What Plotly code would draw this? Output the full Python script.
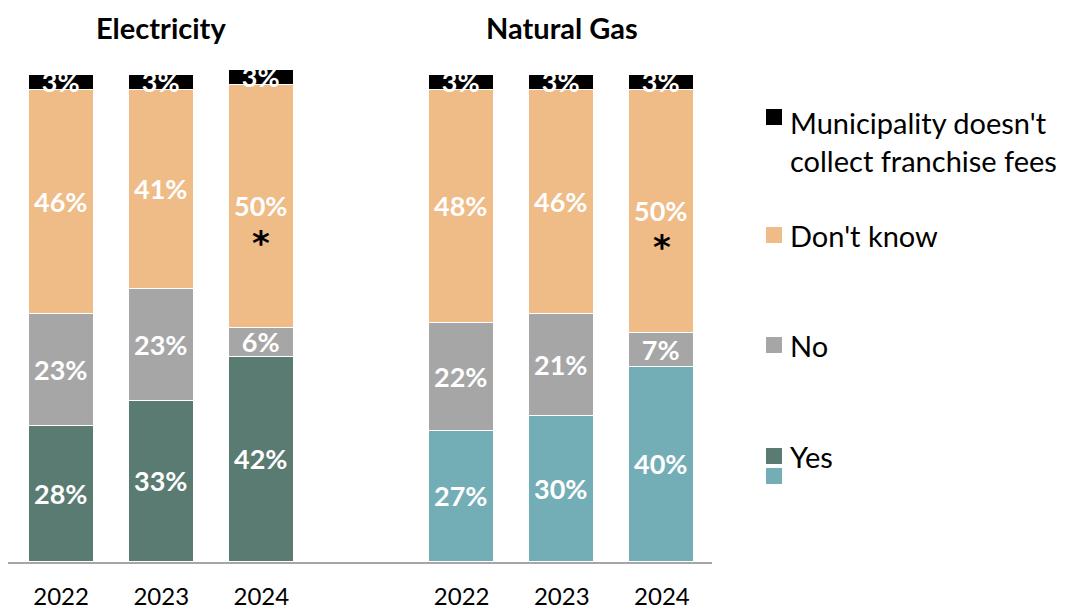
import plotly.graph_objects as go

# ---- data ----
years = ["2022", "2023", "2024"]
groups = ["Electricity", "Natural Gas"]
elec_yes = [28, 33, 42]
elec_no = [23, 23, 6]
elec_dk = [46, 41, 50]
elec_muni = [3, 3, 3]
gas_yes = [27, 30, 40]
gas_no = [22, 21, 7]
gas_dk = [48, 46, 50]
gas_muni = [3, 3, 3]
legend_labels = ["Municipality doesn't<br>collect franchise fees", "Don't know", "No", "Yes"]
significant = [False, False, True]  # asterisk on 2024

# ---- style ----
C_YES_E = "#5A7B71"
C_YES_G = "#73AEB7"
C_NO = "#A6A6A6"
C_DK = "#EFBB87"
C_MUNI = "#000000"
FONT = "Lato"

elec_x = [0, 1, 2]
gas_x = [4, 5, 6]

OFF = 8  # page body margin
W, H = 1069 - OFF, 612 - OFF
ML, MR, MT, MB = 0, 357, 32, 50
PW, PH = W - ML - MR, H - MT - MB

fig = go.Figure()


def add(x, vals, color, name):
    fig.add_trace(go.Bar(
        x=x, y=vals, name=name, marker=dict(color=color, line=dict(color="white", width=1.5)),
        width=0.65, text=[f"{v}%" for v in vals], textposition="inside",
        insidetextanchor="middle", textangle=0,
        insidetextfont=dict(family=FONT, size=27, color="white", weight="bold"),
        showlegend=False, hoverinfo="skip", cliponaxis=False,
    ))


for x, yes, no, dk, muni, cyes in [
    (elec_x, elec_yes, elec_no, elec_dk, elec_muni, C_YES_E),
    (gas_x, gas_yes, gas_no, gas_dk, gas_muni, C_YES_G),
]:
    add(x, yes, cyes, "Yes")
    add(x, no, C_NO, "No")
    add(x, dk, C_DK, "Don't know")
    add(x, muni, C_MUNI, "Municipality doesn't collect franchise fees")


def px(x):
    return (x - OFF - ML) / PW


def py(y):
    return (H - MB - (y - OFF)) / PH


# asterisks
for x, yes, no, dk in [(elec_x, elec_yes, elec_no, elec_dk), (gas_x, gas_yes, gas_no, gas_dk)]:
    for i, s in enumerate(significant):
        if s:
            fig.add_annotation(x=x[i], y=yes[i] + no[i] + dk[i] / 2, text="<b>*</b>", showarrow=False,
                               yshift=-36, font=dict(family="DejaVu Sans", size=34, color="black"))

# group titles
for gx, g in zip([1, 5], groups):
    fig.add_annotation(x=gx, xref="x", y=py(27), yref="paper", text=f"<b>{g}</b>",
                       yanchor="middle", showarrow=False,
                       font=dict(family=FONT, size=29, color="black"))

# custom legend
leg = [
    (legend_labels[0], [C_MUNI], 117, 141),
    (legend_labels[1], [C_DK], 235, 235),
    (legend_labels[2], [C_NO], 345, 345),
    (legend_labels[3], [C_YES_E, C_YES_G], 456, 456),
]
for text, colors, my, ty in leg:
    for k, c in enumerate(colors):
        top = my - 8 + k * 20
        fig.add_shape(type="rect", xref="paper", yref="paper",
                      x0=px(766), x1=px(782), y0=py(top + 16), y1=py(top),
                      fillcolor=c, line=dict(width=0))
    fig.add_annotation(x=px(788), y=py(ty), xref="paper", yref="paper", text=text,
                       xanchor="left", yanchor="middle", align="left", showarrow=False,
                       font=dict(family=FONT, size=29, color="black"))

fig.update_layout(
    width=W, height=H, barmode="stack", bargap=0,
    margin=dict(l=ML, r=MR, t=MT, b=MB, autoexpand=False),
    plot_bgcolor="white", paper_bgcolor="white",
    uniformtext=dict(mode="show", minsize=27),
    font=dict(family=FONT, color="black"),
    xaxis=dict(range=[-0.53, 6.5], tickvals=elec_x + gas_x, ticktext=years + years,
               showline=True, linecolor="#A6A6A6", linewidth=2, showgrid=False, zeroline=False,
               automargin=False,
               ticks="", tickfont=dict(family=FONT, size=24, color="black"), ticklabelstandoff=12),
    yaxis=dict(range=[0, 107.2], visible=False, showgrid=False, zeroline=False, automargin=False),
)

fig.write_html("out.html")
